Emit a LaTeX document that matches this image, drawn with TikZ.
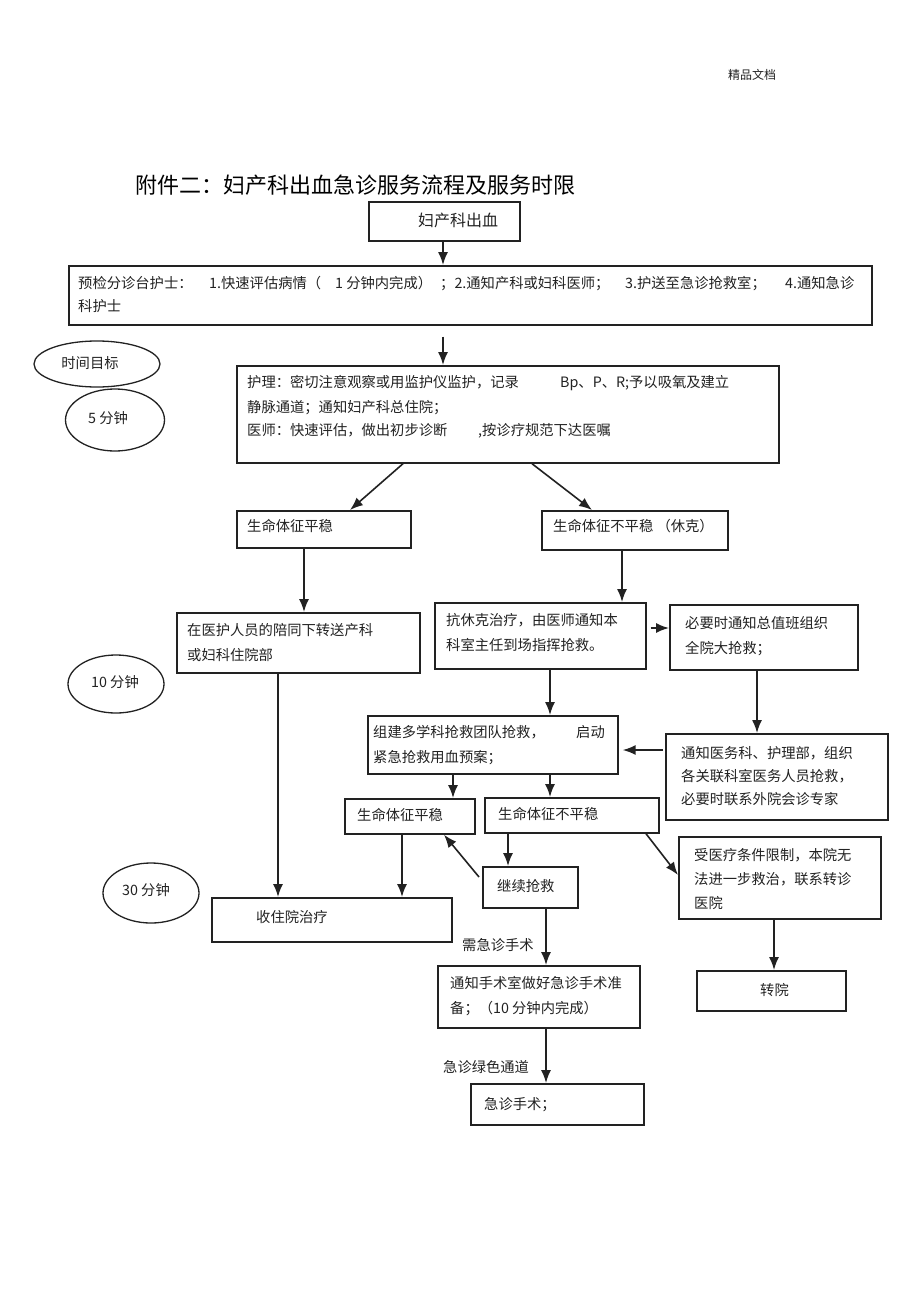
\documentclass[tikz,border=0pt]{standalone}
\usepackage{fontspec}
\setmainfont{Noto Sans CJK SC}
\usetikzlibrary{arrows.meta,shapes.geometric,calc}
\definecolor{ink}{HTML}{222222}
\begin{document}
\begin{tikzpicture}[x=1pt,y=-1pt,
  box/.style={draw=ink, line width=1.7pt, anchor=north west, inner sep=0pt},
  txt/.style={anchor=base west, inner sep=0pt, text=ink, font=\fontsize{14.3}{16}\selectfont},
  arr/.style={draw=ink, line width=1.6pt, -{Latex[length=13pt,width=10pt]}},
  oval/.style={ellipse, draw=ink, line width=1.3pt, inner sep=0pt}]
\useasboundingbox[fill=white] (0,0) rectangle (920,1303);

% header and title
\node[txt, font=\fontsize{12}{14}\selectfont] (hdr) at (728,80) {精品文档};
\node[txt, text=black, font=\fontsize{22}{26}\selectfont] (title) at (135,193) {附件二：妇产科出血急诊服务流程及服务时限};

% boxes
\node[box, minimum width=151pt, minimum height=39pt] (b0) at (368,201) {};
\node[box, minimum width=803pt, minimum height=59pt] (b1) at (68,265) {};
\node[box, minimum width=542pt, minimum height=97pt] (b2) at (236,365) {};
\node[box, minimum width=174pt, minimum height=37pt] (b3) at (236,510) {};
\node[box, minimum width=186pt, minimum height=39pt] (b4) at (541,510) {};
\node[box, minimum width=243pt, minimum height=60pt] (b5) at (176,612) {};
\node[box, minimum width=211pt, minimum height=66pt] (b6) at (434,602) {};
\node[box, minimum width=188pt, minimum height=65pt] (b7) at (669,604) {};
\node[box, minimum width=250pt, minimum height=58pt] (b8) at (367,715) {};
\node[box, minimum width=222pt, minimum height=86pt] (b9) at (665,733) {};
\node[box, minimum width=130pt, minimum height=35pt] (b10) at (344,798) {};
\node[box, minimum width=174pt, minimum height=35pt] (b11) at (484,797) {};
\node[box, minimum width=95pt, minimum height=41pt] (b12) at (482,866) {};
\node[box, minimum width=202pt, minimum height=82pt] (b13) at (678,836) {};
\node[box, minimum width=240pt, minimum height=44pt] (b14) at (211,897) {};
\node[box, minimum width=202pt, minimum height=62pt] (b15) at (437,965) {};
\node[box, minimum width=149pt, minimum height=40pt] (b16) at (696,970) {};
\node[box, minimum width=173pt, minimum height=41pt] (b17) at (470,1083) {};

% ovals
\node[oval, minimum width=126pt, minimum height=46pt] (e1) at (97,364) {};
\node[oval, minimum width=99pt, minimum height=62pt] (e2) at (115,420) {};
\node[oval, minimum width=96pt, minimum height=58pt] (e3) at (116,684) {};
\node[oval, minimum width=96pt, minimum height=60pt] (e4) at (151,893) {};
\node[txt, anchor=center] (e1t) at (90,363) {时间目标};
\node[txt, anchor=center] (e2t) at (108,418) {5 分钟};
\node[txt, anchor=center] (e3t) at (115,682) {10 分钟};
\node[txt, anchor=center] (e4t) at (146,890) {30 分钟};

% texts
\node[txt, font=\fontsize{16}{18}\selectfont] (t0) at (418,226) {妇产科出血};
\node[txt] (t1a) at (78,288) {预检分诊台护士：};
\node[txt] (t1b) at (209,288) {1.快速评估病情（};
\node[txt] (t1c) at (335,288) {1 分钟内完成）};
\node[txt] (t1d) at (440,288) {；2.通知产科或妇科医师；};
\node[txt] (t1e) at (625,288) {3.护送至急诊抢救室；};
\node[txt] (t1f) at (785,288) {4.通知急诊};
\node[txt] (t1g) at (78,311) {科护士};
\node[txt] (t2a) at (247,387) {护理：密切注意观察或用监护仪监护，记录};
\node[txt] (t2b) at (560,387) {Bp、P、R;予以吸氧及建立};
\node[txt] (t2c) at (247,412) {静脉通道；通知妇产科总住院；};
\node[txt] (t2d) at (247,435) {医师：快速评估，做出初步诊断};
\node[txt] (t2e) at (478,435) {,按诊疗规范下达医嘱};
\node[txt] (t3) at (247,531) {生命体征平稳};
\node[txt] (t4) at (553,531) {生命体征不平稳 （休克）};
\node[txt] (t5a) at (187,635) {在医护人员的陪同下转送产科};
\node[txt] (t5b) at (187,660) {或妇科住院部};
\node[txt] (t6a) at (446,625) {抗休克治疗，由医师通知本};
\node[txt] (t6b) at (446,650) {科室主任到场指挥抢救。};
\node[txt] (t7a) at (685,628) {必要时通知总值班组织};
\node[txt] (t7b) at (685,653) {全院大抢救；};
\node[txt] (t8a) at (373,737) {组建多学科抢救团队抢救，};
\node[txt] (t8b) at (576,737) {启动};
\node[txt] (t8c) at (373,762) {紧急抢救用血预案；};
\node[txt] (t9a) at (681,758) {通知医务科、护理部，组织};
\node[txt] (t9b) at (681,781) {各关联科室医务人员抢救，};
\node[txt] (t9c) at (681,804) {必要时联系外院会诊专家};
\node[txt] (t10) at (357,820) {生命体征平稳};
\node[txt] (t11) at (498,819) {生命体征不平稳};
\node[txt] (t12) at (497,891) {继续抢救};
\node[txt] (t13a) at (694,860) {受医疗条件限制，本院无};
\node[txt] (t13b) at (694,884) {法进一步救治，联系转诊};
\node[txt] (t13c) at (694,908) {医院};
\node[txt] (t14) at (256,922) {收住院治疗};
\node[txt] (t15a) at (450,988) {通知手术室做好急诊手术准};
\node[txt] (t15b) at (450,1013) {备；（10 分钟内完成）};
\node[txt] (t16) at (760,995) {转院};
\node[txt] (t17) at (484,1109) {急诊手术；};
\node[txt] (l1) at (462,950) {需急诊手术};
\node[txt] (l2) at (443,1072) {急诊绿色通道};

% reference coordinates
\coordinate (x443) at (443,0);
\coordinate (x403) at (403,0);
\coordinate (x350) at (350,0);
\coordinate (x532) at (532,0);
\coordinate (x592) at (592,0);
\coordinate (x304) at (304,0);
\coordinate (x622) at (622,0);
\coordinate (x278) at (278,0);
\coordinate (x550) at (550,0);
\coordinate (x757) at (757,0);
\coordinate (x453) at (453,0);
\coordinate (x508) at (508,0);
\coordinate (x402) at (402,0);
\coordinate (x444) at (444,0);
\coordinate (x646) at (646,0);
\coordinate (x546) at (546,0);
\coordinate (x774) at (774,0);
\coordinate (y628) at (0,628);
\coordinate (y750) at (0,750);
\coordinate (y875) at (0,875);

% connectors
\draw[arr] (b0.south -| x443) -- (b1.north -| x443);
\draw[arr] ($(b1.south -| x443)+(0,11)$) -- (b2.north -| x443);
\draw[arr] (b2.south -| x403) -- (b3.north -| x350);
\draw[arr] (b2.south -| x532) -- (b4.north -| x592);
\draw[arr] (b3.south -| x304) -- (b5.north -| x304);
\draw[arr] (b4.south -| x622) -- (b6.north -| x622);
\draw[arr] ($(b6.east |- y628)+(4,0)$) -- (b7.west |- y628);
\draw[arr] (b5.south -| x278) -- (b14.north -| x278);
\draw[arr] (b6.south -| x550) -- (b8.north -| x550);
\draw[arr] (b7.south -| x757) -- (b9.north -| x757);
\draw[arr] ($(b9.west |- y750)+(-2,0)$) -- ($(b8.east |- y750)+(4,0)$);
\draw[arr] (b8.south -| x453) -- (b10.north -| x453);
\draw[arr] (b8.south -| x550) -- (b11.north -| x550);
\draw[arr] (b11.south -| x508) -- (b12.north -| x508);
\draw[arr] ($(b12.north west)+(-3,11)$) -- (b10.south -| x444);
\draw[arr] (b10.south -| x402) -- (b14.north -| x402);
\draw[arr] (b11.south -| x646) -- (b13.west |- y875);
\draw[arr] (b12.south -| x546) -- (b15.north -| x546);
\draw[arr] (b13.south -| x774) -- (b16.north -| x774);
\draw[arr] (b15.south -| x546) -- (b17.north -| x546);
\end{tikzpicture}
\end{document}
